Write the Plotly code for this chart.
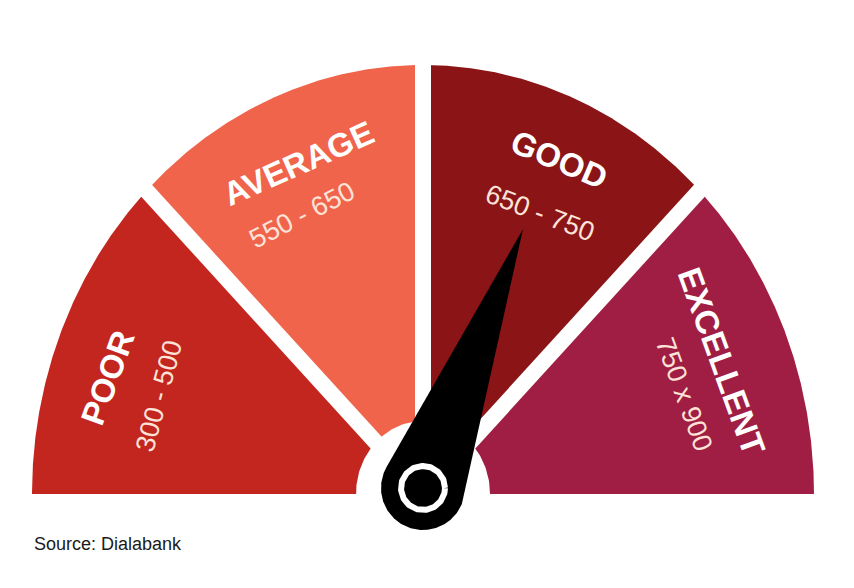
import numpy as np
import plotly.graph_objects as go

# ---- data ----
categories = ["POOR", "AVERAGE", "GOOD", "EXCELLENT"]
ranges = ["300 - 500", "550 - 650", "650 - 750", "750 x 900"]
seg_start = [300, 550, 650, 750]
seg_end = [500, 650, 750, 900]
needle_value = 700
source = "Source: Dialabank"

# ---- style / layout ----
colors = ["#C3261F", "#F0644B", "#8A1416", "#A01E43"]
OFF = 8                     # page body margin
W, H = 854 - 2 * OFF, 588 - 2 * OFF
CX, CY = 423 - OFF, 494 - OFF   # gauge centre in figure pixels
RX, RY = 391, 429          # outer radii
HUB_RX, HUB_RY = 67, 73    # white hub
GAP = 16
NEEDLE_FRAC = 0.668
HUB_C = (0, 6)
HUB_R = 42
label_px = [(107, 378), (298, 163), (559, 159), (722, 361)]
label_ang = [-70, -24, 23, 70]
range_px = [(159, 396), (302, 215), (540, 213), (684, 394)]
range_ang = [-75, -27, 21, 70]
SRC_X, SRC_Y = 32, 544
FONT = "Liberation Sans, Arial, Helvetica, sans-serif"

n = len(categories)
seg_deg = 180.0 / n


def value_to_angle(v):
    for i in range(n):
        if seg_start[i] <= v <= seg_end[i]:
            frac = (v - seg_start[i]) / (seg_end[i] - seg_start[i])
            return np.radians(180 - seg_deg * (i + frac))
    return np.radians(90)


fig = go.Figure()

for i in range(n):
    a0 = np.radians(180 - seg_deg * i)
    a1 = np.radians(180 - seg_deg * (i + 1))
    t = np.linspace(a0, a1, 200)
    xs = np.concatenate([[0], RX * np.cos(t), [0]])
    ys = np.concatenate([[0], RY * np.sin(t), [0]])
    fig.add_trace(go.Scatter(x=xs, y=ys, fill="toself", fillcolor=colors[i],
                             mode="lines", line=dict(width=0), hoverinfo="skip",
                             showlegend=False))

for i in range(1, n):
    a = np.radians(180 - seg_deg * i)
    fig.add_trace(go.Scatter(x=[0, 1.3 * RX * np.cos(a)], y=[0, 1.3 * RY * np.sin(a)],
                             mode="lines", line=dict(color="white", width=GAP),
                             hoverinfo="skip", showlegend=False))

t = np.linspace(0, 2 * np.pi, 200)
fig.add_trace(go.Scatter(x=HUB_RX * np.cos(t), y=HUB_RY * np.sin(t), fill="toself",
                         fillcolor="white", mode="lines", line=dict(width=0),
                         hoverinfo="skip", showlegend=False))

ang = value_to_angle(needle_value)
tip = np.array([NEEDLE_FRAC * RX * np.cos(ang), NEEDLE_FRAC * RY * np.sin(ang)])
c = np.array(HUB_C, dtype=float)
d = tip - c
L = np.hypot(*d)
theta = np.arctan2(d[1], d[0])
beta = np.arccos(HUB_R / L)
t1 = theta + beta
t2 = theta - beta
arc = np.linspace(t2, t1 - 2 * np.pi, 120)
nx = np.concatenate([[tip[0]], c[0] + HUB_R * np.cos(arc), [tip[0]]])
ny = np.concatenate([[tip[1]], c[1] + HUB_R * np.sin(arc), [tip[1]]])
fig.add_trace(go.Scatter(x=nx, y=ny, fill="toself", fillcolor="black", mode="lines",
                         line=dict(width=0, color="black"), hoverinfo="skip",
                         showlegend=False))
fig.add_trace(go.Scatter(x=c[0] + 22 * np.cos(t), y=c[1] + 22 * np.sin(t), mode="lines",
                         line=dict(color="white", width=6), hoverinfo="skip",
                         showlegend=False))

annotations = []
for i in range(n):
    lx, ly = label_px[i]
    annotations.append(dict(x=lx - 423, y=494 - ly, xref="x", yref="y",
                            text="<b>%s</b>" % categories[i],
                            showarrow=False, textangle=label_ang[i],
                            font=dict(family=FONT, size=33, color="white")))
    rx_, ry_ = range_px[i]
    annotations.append(dict(x=rx_ - 423, y=494 - ry_, xref="x", yref="y", text=ranges[i],
                            showarrow=False, textangle=range_ang[i],
                            font=dict(family=FONT, size=27, color="#FBE3D8")))
annotations.append(dict(x=(SRC_X - OFF) / W, y=1 - (SRC_Y - OFF) / H, xref="paper", yref="paper",
                        text=source, showarrow=False, xanchor="left", yanchor="middle",
                        font=dict(family=FONT, size=18, color="#1a1a1a")))

fig.update_layout(
    width=W, height=H, margin=dict(l=0, r=0, t=0, b=0),
    paper_bgcolor="white", plot_bgcolor="white",
    xaxis=dict(range=[-CX, W - CX], visible=False, fixedrange=True),
    yaxis=dict(range=[CY - H, CY], visible=False, fixedrange=True),
    annotations=annotations, showlegend=False,
)

fig.write_html("out.html")
